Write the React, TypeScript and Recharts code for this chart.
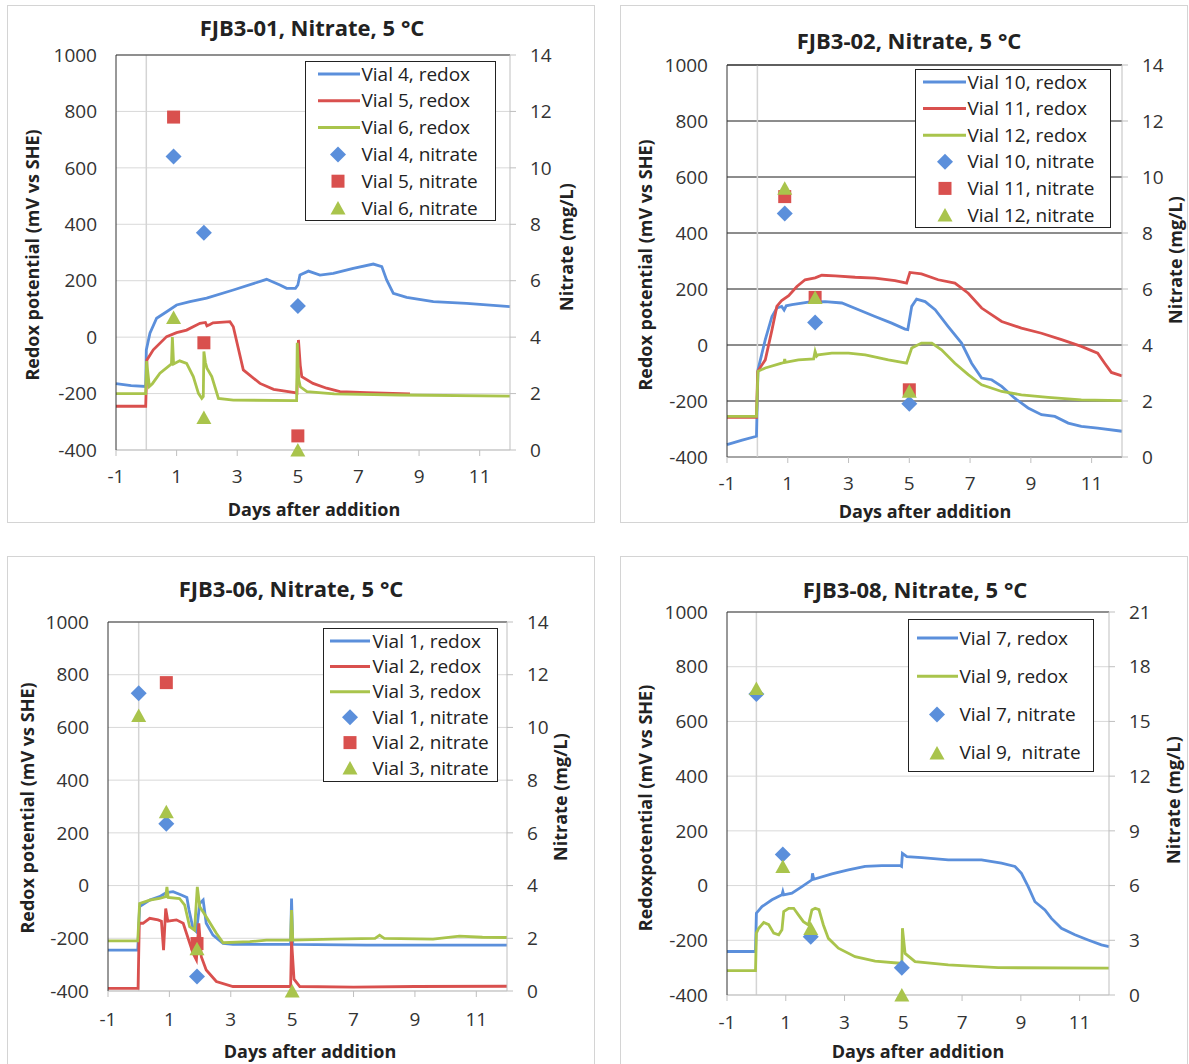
import React from 'react'
import { ComposedChart, Line, Scatter, XAxis, YAxis, CartesianGrid, ReferenceLine } from 'recharts'

const FONT = '"Open Sans", Lato, sans-serif'
const BLUE = '#5b8fdb'
const RED = '#d9504e'
const GREEN = '#a9c44c'
const LIGHT = '#d4d4d4'

const dayTicks = [-1, 1, 3, 5, 7, 9, 11]
const redoxTicks = [-400, -200, 0, 200, 400, 600, 800, 1000]
const nitrateTicks14 = [0, 2, 4, 6, 8, 10, 12, 14]
const nitrateTicks21 = [0, 3, 6, 9, 12, 15, 18, 21]

// FJB3-01 : [day, mV] and [day, mg/L]
const vial4Redox = [[-1, -165], [-0.5, -172], [-0.02, -175], [0, -45], [0.12, 14], [0.34, 67], [0.67, 90], [1.0, 114], [1.44, 126], [1.99, 138], [2.87, 167], [3.97, 205], [4.41, 185], [4.63, 173], [4.92, 173], [5.0, 185], [5.07, 220], [5.35, 234], [5.73, 220], [6.17, 226], [6.83, 244], [7.49, 259], [7.77, 250], [7.93, 203], [8.15, 155], [8.59, 141], [9.47, 126], [10.57, 120], [12, 108]]
const vial5Redox = [[-1, -245], [-0.02, -245], [0.02, -81], [0.23, -45], [0.67, 2], [1.0, 16], [1.33, 25], [1.77, 49], [1.95, 52], [2.0, 40], [2.1, 45], [2.2, 51], [2.76, 55], [2.87, 37], [3.2, -116], [3.75, -164], [4.2, -185], [4.9, -197], [4.97, -199], [5.02, -10], [5.08, -100], [5.13, -140], [5.5, -164], [5.95, -181], [6.39, -193], [7.27, -197], [8.7, -201]]
const vial6Redox = [[-1, -200], [-0.02, -200], [0.01, -85], [0.1, -175], [0.2, -165], [0.45, -128], [0.78, -99], [0.83, -95], [0.86, 0], [0.9, -95], [1.1, -84], [1.33, -93], [1.55, -140], [1.72, -199], [1.83, -217], [1.88, -210], [1.9, -51], [1.95, -90], [2.0, -110], [2.16, -140], [2.38, -217], [2.87, -223], [4.92, -225], [4.96, -225], [4.98, -20], [5.03, -150], [5.08, -176], [5.3, -193], [6.2, -201], [8.37, -205], [12, -209]]
const vial4Nitrate = [[0.9, 10.4], [1.9, 7.7], [5.0, 5.1]]
const vial5Nitrate = [[0.9, 11.8], [1.9, 3.8], [5.0, 0.5]]
const vial6Nitrate = [[0.9, 4.7], [1.9, 1.15], [5.0, 0.0]]

// FJB3-02
const vial10Redox = [[-1, -356], [-0.5, -340], [-0.03, -326], [0.02, -88], [0.26, 19], [0.48, 102], [0.64, 132], [0.8, 138], [0.88, 125], [0.95, 140], [1.14, 144], [1.68, 153], [2.23, 155], [2.78, 150], [3.33, 126], [3.87, 102], [4.42, 78], [4.86, 57], [4.95, 55], [5.08, 138], [5.24, 164], [5.52, 155], [5.85, 126], [6.28, 66], [6.72, 7], [7.05, -65], [7.38, -118], [7.71, -124], [8.04, -148], [8.47, -190], [8.91, -225], [9.35, -249], [9.79, -255], [10.23, -279], [10.66, -291], [11.2, -297], [12, -308]]
const vial11Redox = [[-1, -258], [-0.03, -258], [0.01, -94], [0.26, -53], [0.48, 54], [0.64, 138], [0.8, 159], [1.03, 176], [1.3, 209], [1.57, 233], [1.9, 240], [2.12, 249], [2.56, 247], [3.22, 242], [3.87, 239], [4.53, 230], [4.91, 221], [5.02, 259], [5.4, 254], [5.95, 233], [6.5, 221], [6.94, 185], [7.38, 132], [8.04, 84], [8.69, 60], [9.35, 42], [10.01, 19], [10.66, -5], [11.2, -29], [11.43, -65], [11.65, -98], [12, -110]]
const vial12Redox = [[-1, -255], [-0.03, -255], [0.02, -94], [0.26, -82], [0.8, -65], [0.88, -62], [0.9, -50], [0.92, -62], [1.35, -53], [1.85, -50], [1.9, -23], [1.95, -40], [2.0, -35], [2.45, -29], [3.0, -29], [3.55, -35], [4.31, -53], [4.91, -65], [5.08, -11], [5.4, 7], [5.74, 7], [6.06, -17], [6.5, -65], [6.94, -106], [7.38, -142], [8.04, -166], [8.69, -178], [9.57, -187], [10.66, -196], [12, -199]]
const vial10Nitrate = [[0.9, 8.7], [1.9, 4.8], [5.0, 1.9]]
const vial11Nitrate = [[0.9, 9.3], [1.9, 5.7], [5.0, 2.4]]
const vial12Nitrate = [[0.9, 9.6], [1.9, 5.7], [5.0, 2.35]]

// FJB3-06
const vial1Redox = [[-1, -245], [-0.03, -245], [0.03, -80], [0.36, -55], [0.68, -42], [0.9, -27], [1.12, -23], [1.39, -36], [1.57, -45], [1.64, -93], [1.77, -162], [1.88, -175], [1.99, -68], [2.1, -55], [2.2, -143], [2.42, -188], [2.75, -219], [3.07, -223], [4.95, -223], [4.98, -49], [5.02, -223], [7.42, -226], [12, -226]]
const vial2Redox = [[-1, -390], [-0.02, -390], [0.02, -143], [0.14, -143], [0.36, -124], [0.63, -130], [0.74, -135], [0.81, -245], [0.88, -87], [0.95, -135], [1.23, -130], [1.45, -143], [1.61, -200], [1.77, -257], [1.88, -282], [1.96, -143], [2.04, -270], [2.2, -320], [2.53, -364], [3.07, -383], [4.95, -383], [4.98, -207], [5.06, -355], [5.25, -383], [7.0, -385], [9.0, -383], [12, -382]]
const vial3Redox = [[-1, -210], [-0.03, -210], [0.03, -68], [0.36, -55], [0.68, -49], [0.88, -42], [0.92, -5], [0.96, -45], [1.33, -49], [1.5, -74], [1.66, -156], [1.82, -169], [1.91, -5], [1.99, -80], [2.2, -118], [2.53, -181], [2.75, -217], [3.62, -213], [4.16, -207], [4.95, -207], [4.98, -93], [5.02, -207], [6.32, -203], [7.7, -200], [7.85, -188], [8.0, -200], [9.59, -203], [10.45, -192], [11.2, -196], [12, -197]]
const vial1Nitrate = [[0.0, 11.3], [0.9, 6.35], [1.9, 0.55]]
const vial2Nitrate = [[0.9, 11.7], [1.9, 1.8]]
const vial3Nitrate = [[0.0, 10.45], [0.9, 6.8], [1.9, 1.6], [5.0, 0.0]]

// FJB3-08
const vial7Redox = [[-1, -241], [-0.03, -241], [0.0, -101], [0.19, -77], [0.53, -52], [0.87, -34], [0.9, -22], [0.93, -34], [1.21, -28], [1.55, -4], [1.89, 21], [1.91, 45], [1.95, 23], [2.57, 43], [3.13, 57], [3.7, 70], [4.27, 73], [4.89, 73], [4.94, 70], [4.97, 118], [5.12, 106], [5.63, 102], [6.53, 94], [7.66, 94], [8.34, 82], [8.8, 70], [9.02, 45], [9.25, -4], [9.48, -59], [9.82, -89], [10.04, -120], [10.38, -156], [10.84, -180], [11.29, -199], [11.74, -217], [12, -223]]
const vial9Redox = [[-1, -311], [-0.03, -311], [0.0, -174], [0.08, -156], [0.25, -135], [0.42, -143], [0.59, -174], [0.76, -180], [0.87, -162], [0.93, -95], [1.1, -83], [1.27, -83], [1.43, -107], [1.6, -132], [1.77, -144], [1.89, -89], [2.0, -83], [2.13, -88], [2.28, -144], [2.45, -193], [2.79, -229], [3.36, -260], [4.04, -276], [4.89, -284], [4.95, -284], [4.97, -156], [5.06, -248], [5.4, -278], [6.53, -290], [8.23, -300], [12, -302]]
const vial7Nitrate = [[0.0, 16.5], [0.9, 7.7], [1.85, 3.2], [4.95, 1.5]]
const vial9Nitrate = [[0.0, 16.8], [0.9, 7.05], [1.85, 3.65], [4.95, 0.0]]

const pts = (arr: number[][]) => arr.map(([x, y]) => ({ x, y }))

type Kind = 'diamond' | 'square' | 'triangle'

const Marker = ({ kind, cx, cy, color }: { kind: Kind; cx: number; cy: number; color: string }) => {
  if (kind === 'diamond')
    return <polygon points={`${cx},${cy - 8} ${cx + 8},${cy} ${cx},${cy + 8} ${cx - 8},${cy}`} fill={color} />
  if (kind === 'square') return <rect x={cx - 6.5} y={cy - 6.5} width={13} height={13} fill={color} />
  return <polygon points={`${cx},${cy - 7} ${cx + 7.5},${cy + 6.5} ${cx - 7.5},${cy + 6.5}`} fill={color} />
}

const panels = [
  {
    title: 'FJB3-01, Nitrate, 5 °C',
    frame: { x: 7, y: 5, w: 588, h: 518 },
    plot: { l: 116, t: 55, r: 510, b: 450 },
    grid: '#d9d9d9',
    nitrateMax: 14,
    nitrateTicks: nitrateTicks14,
    yLabel: 'Redox potential (mV vs SHE)',
    titlePos: [312, 27],
    yLabelPos: [32, 255],
    rLabelPos: [566, 247],
    xLabelPos: [314, 509],
    xTickMargin: 14,
    lines: [
      { name: 'Vial 4, redox', color: BLUE, data: vial4Redox },
      { name: 'Vial 5, redox', color: RED, data: vial5Redox },
      { name: 'Vial 6, redox', color: GREEN, data: vial6Redox },
    ],
    marks: [
      { name: 'Vial 4, nitrate', kind: 'diamond' as Kind, color: BLUE, data: vial4Nitrate },
      { name: 'Vial 5, nitrate', kind: 'square' as Kind, color: RED, data: vial5Nitrate },
      { name: 'Vial 6, nitrate', kind: 'triangle' as Kind, color: GREEN, data: vial6Nitrate },
    ],
    legend: { x: 305, y: 61, w: 191, h: 160, row0: 13, gap: 26.8, lineX: [13, 55], markX: 33, textX: 57 },
  },
  {
    title: 'FJB3-02, Nitrate, 5 °C',
    frame: { x: 620, y: 5, w: 568, h: 518 },
    plot: { l: 727, t: 65, r: 1122, b: 457 },
    grid: '#1a1a1a',
    nitrateMax: 14,
    nitrateTicks: nitrateTicks14,
    yLabel: 'Redox potential (mV vs SHE)',
    titlePos: [909, 40],
    yLabelPos: [645, 265],
    rLabelPos: [1175, 260],
    xLabelPos: [925, 511],
    xTickMargin: 14,
    lines: [
      { name: 'Vial 10, redox', color: BLUE, data: vial10Redox },
      { name: 'Vial 11, redox', color: RED, data: vial11Redox },
      { name: 'Vial 12, redox', color: GREEN, data: vial12Redox },
    ],
    marks: [
      { name: 'Vial 10, nitrate', kind: 'diamond' as Kind, color: BLUE, data: vial10Nitrate },
      { name: 'Vial 11, nitrate', kind: 'square' as Kind, color: RED, data: vial11Nitrate },
      { name: 'Vial 12, nitrate', kind: 'triangle' as Kind, color: GREEN, data: vial12Nitrate },
    ],
    legend: { x: 915, y: 69, w: 196, h: 159, row0: 13, gap: 26.6, lineX: [8, 51], markX: 30, textX: 53 },
  },
  {
    title: 'FJB3-06, Nitrate, 5 °C',
    frame: { x: 7, y: 556, w: 588, h: 515 },
    plot: { l: 108, t: 622, r: 507, b: 991 },
    grid: '#d9d9d9',
    nitrateMax: 14,
    nitrateTicks: nitrateTicks14,
    yLabel: 'Redox potential (mV vs SHE)',
    titlePos: [291, 588],
    yLabelPos: [27, 808],
    rLabelPos: [560, 797],
    xLabelPos: [310, 1051],
    xTickMargin: 16,
    lines: [
      { name: 'Vial 1, redox', color: BLUE, data: vial1Redox },
      { name: 'Vial 2, redox', color: RED, data: vial2Redox },
      { name: 'Vial 3, redox', color: GREEN, data: vial3Redox },
    ],
    marks: [
      { name: 'Vial 1, nitrate', kind: 'diamond' as Kind, color: BLUE, data: vial1Nitrate },
      { name: 'Vial 2, nitrate', kind: 'square' as Kind, color: RED, data: vial2Nitrate },
      { name: 'Vial 3, nitrate', kind: 'triangle' as Kind, color: GREEN, data: vial3Nitrate },
    ],
    legend: { x: 323, y: 628, w: 175, h: 154, row0: 13, gap: 25.4, lineX: [7, 47], markX: 27, textX: 50 },
  },
  {
    title: 'FJB3-08, Nitrate, 5 °C',
    frame: { x: 620, y: 556, w: 568, h: 515 },
    plot: { l: 727, t: 612, r: 1109, b: 995 },
    grid: '#d9d9d9',
    nitrateMax: 21,
    nitrateTicks: nitrateTicks21,
    yLabel: 'Redoxpotential (mV vs SHE)',
    titlePos: [915, 589],
    yLabelPos: [645, 808],
    rLabelPos: [1173, 800],
    xLabelPos: [918, 1051],
    xTickMargin: 15,
    lines: [
      { name: 'Vial 7, redox', color: BLUE, data: vial7Redox },
      { name: 'Vial 9, redox', color: GREEN, data: vial9Redox },
    ],
    marks: [
      { name: 'Vial 7, nitrate', kind: 'diamond' as Kind, color: BLUE, data: vial7Nitrate },
      { name: 'Vial 9,  nitrate', kind: 'triangle' as Kind, color: GREEN, data: vial9Nitrate },
    ],
    legend: { x: 908, y: 619, w: 186, h: 153, row0: 19, gap: 38.3, lineX: [9, 50], markX: 29, textX: 52 },
  },
]

const LW = 70
const RW = 40
const XH = 30
const tickStyle = { fontSize: 19, fill: '#333', fontFamily: FONT }

const Panel = ({ p }: { p: (typeof panels)[number] }) => {
  const { frame, plot } = p
  const margin = {
    left: plot.l - frame.x - LW,
    top: plot.t - frame.y,
    right: frame.x + frame.w - plot.r - RW,
    bottom: frame.y + frame.h - plot.b - XH,
  }
  const lg = p.legend
  const rows = [
    ...p.lines.map((l) => ({ name: l.name, color: l.color, kind: null as Kind | null })),
    ...p.marks.map((m) => ({ name: m.name, color: m.color, kind: m.kind })),
  ]
  const text = { position: 'absolute' as const, whiteSpace: 'pre' as const, color: '#222', fontFamily: FONT }
  return (
    <>
      <div style={{ position: 'absolute', left: frame.x, top: frame.y, width: frame.w, height: frame.h, border: `1px solid ${LIGHT}`, boxSizing: 'border-box' }} />
      <div style={{ position: 'absolute', left: frame.x, top: frame.y, fontFamily: FONT }}>
        <ComposedChart width={frame.w} height={frame.h} margin={margin}>
          <CartesianGrid vertical={false} stroke={p.grid} horizontalValues={redoxTicks} />
          <XAxis type="number" dataKey="x" domain={[-1, 12]} ticks={dayTicks} height={XH}
            axisLine={{ stroke: '#bfbfbf' }} tickLine={{ stroke: '#bfbfbf' }} tickSize={6} tickMargin={p.xTickMargin} tick={tickStyle} />
          <YAxis type="number" domain={[-400, 1000]} ticks={redoxTicks} width={LW}
            axisLine={{ stroke: '#333' }} tickLine={false} tickSize={0} tickMargin={19} tick={tickStyle} />
          <YAxis yAxisId="right" orientation="right" type="number" domain={[0, p.nitrateMax]} ticks={p.nitrateTicks} width={RW}
            axisLine={{ stroke: '#bfbfbf' }} tickLine={{ stroke: '#bfbfbf' }} tickSize={6} tickMargin={14} tick={tickStyle} />
          <ReferenceLine x={0} stroke={LIGHT} strokeWidth={1.5} />
          <ReferenceLine y={1000} stroke="#333" strokeWidth={1.2} />
          {p.lines.map((l) => (
            <Line key={l.name} data={pts(l.data)} dataKey="y" stroke={l.color} strokeWidth={2.8} dot={false}
              type="linear" isAnimationActive={false} />
          ))}
          {p.marks.map((m) => (
            <Scatter key={m.name} yAxisId="right" data={pts(m.data)} dataKey="y" fill={m.color} isAnimationActive={false}
              shape={(s: any) => <Marker kind={m.kind} cx={s.cx} cy={s.cy} color={m.color} />} />
          ))}
        </ComposedChart>
      </div>
      <div style={{ ...text, left: p.titlePos[0], top: p.titlePos[1], transform: 'translate(-50%,-50%)', fontSize: 22, fontWeight: 700 }}>{p.title}</div>
      <div style={{ ...text, left: p.yLabelPos[0], top: p.yLabelPos[1], transform: 'translate(-50%,-50%) rotate(-90deg)', fontSize: 18, fontWeight: 700 }}>{p.yLabel}</div>
      <div style={{ ...text, left: p.rLabelPos[0], top: p.rLabelPos[1], transform: 'translate(-50%,-50%) rotate(-90deg)', fontSize: 18, fontWeight: 700, lineHeight: '22px' }}>Nitrate (mg/L)</div>
      <div style={{ ...text, left: p.xLabelPos[0], top: p.xLabelPos[1], transform: 'translate(-50%,-50%)', fontSize: 18, fontWeight: 700, lineHeight: '22px' }}>Days after addition</div>
      <div style={{ position: 'absolute', left: lg.x, top: lg.y, width: lg.w, height: lg.h, border: '1.5px solid #222', boxSizing: 'border-box', background: '#fff' }}>
        <svg width={lg.w} height={lg.h} style={{ position: 'absolute', left: -1.5, top: -1.5 }}>
          {rows.map((r, i) => {
            const cy = lg.row0 + i * lg.gap
            return r.kind ? (
              <Marker key={r.name} kind={r.kind} cx={lg.markX} cy={cy} color={r.color} />
            ) : (
              <line key={r.name} x1={lg.lineX[0]} x2={lg.lineX[1]} y1={cy} y2={cy} stroke={r.color} strokeWidth={3} />
            )
          })}
        </svg>
        {rows.map((r, i) => (
          <div key={r.name} style={{ ...text, left: lg.textX - 1.5, top: lg.row0 + i * lg.gap - 1.5, transform: 'translateY(-50%)', fontSize: 19, lineHeight: '22px' }}>
            {r.name}
          </div>
        ))}
      </div>
    </>
  )
}

const App = () => (
  <div style={{ position: 'absolute', left: 0, top: 0, width: 1189, height: 1064, background: '#fff' }}>
    {panels.map((p) => (
      <Panel key={p.title} p={p} />
    ))}
  </div>
)

export default App
